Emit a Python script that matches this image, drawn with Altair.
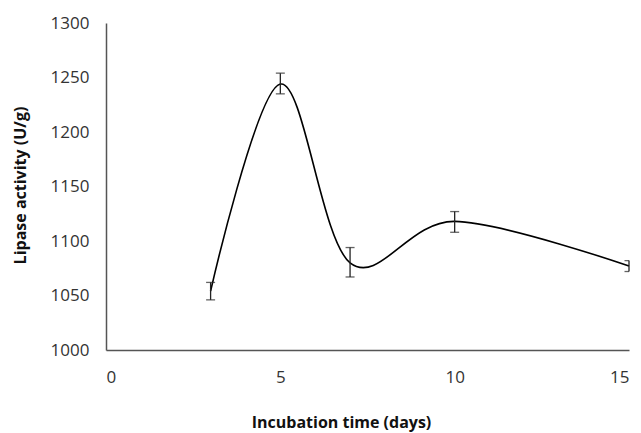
import altair as alt
import pandas as pd

days = [3, 5, 7, 10, 15]
activity = [1054, 1244, 1080, 1118, 1077]
err_low = [1046, 1235, 1067, 1108, 1072]
err_high = [1062, 1254, 1094, 1127, 1082]

df = pd.DataFrame({"day": days, "act": activity, "lo": err_low, "hi": err_high})
caps = pd.DataFrame({"day": days * 2, "v": err_low + err_high})

xs = alt.Scale(domain=[0, 15], nice=False)
ys = alt.Scale(domain=[1000, 1300], nice=False)

font = "Open Sans"

line = alt.Chart(df).mark_line(interpolate="cardinal", color="black", strokeWidth=1.6).encode(
    x=alt.X("day:Q", scale=xs, title="Incubation time (days)",
            axis=alt.Axis(values=[0, 5, 10, 15], grid=False, ticks=False, labelPadding=19,
                          titleX=235, titleY=72, titleBaseline="middle", titleAlign="center")),
    y=alt.Y("act:Q", scale=ys, title="Lipase activity (U/g)",
            axis=alt.Axis(values=[1000, 1050, 1100, 1150, 1200, 1250, 1300], grid=False, ticks=False,
                          format="d", labelPadding=17,
                          titleX=-86, titleY=162, titleAngle=-90, titleBaseline="middle",
                          titleAlign="center")),
)

rules = alt.Chart(df).mark_rule(color="#222222", strokeWidth=1.3).encode(
    x="day:Q", y="lo:Q", y2="hi:Q"
)

ticks = alt.Chart(caps).mark_tick(color="#222222", thickness=1.3, size=9, orient="horizontal", clip=True).encode(
    x="day:Q", y="v:Q"
)

chart = alt.layer(line, rules, ticks).properties(
    width=523, height=327,
    autosize=alt.AutoSizeParams(type="none"),
    padding={"left": 98, "top": 15, "right": 2, "bottom": 85},
).configure_view(stroke=None).configure_axis(
    domainColor="#555555", domainWidth=1.5,
    labelFont=font, labelFontSize=17, labelColor="#333333",
    titleFont=font, titleFontSize=16, titleFontWeight="bold", titleColor="#111111",
)

chart.save("out.html", embed_options={"renderer": "svg", "actions": False})
